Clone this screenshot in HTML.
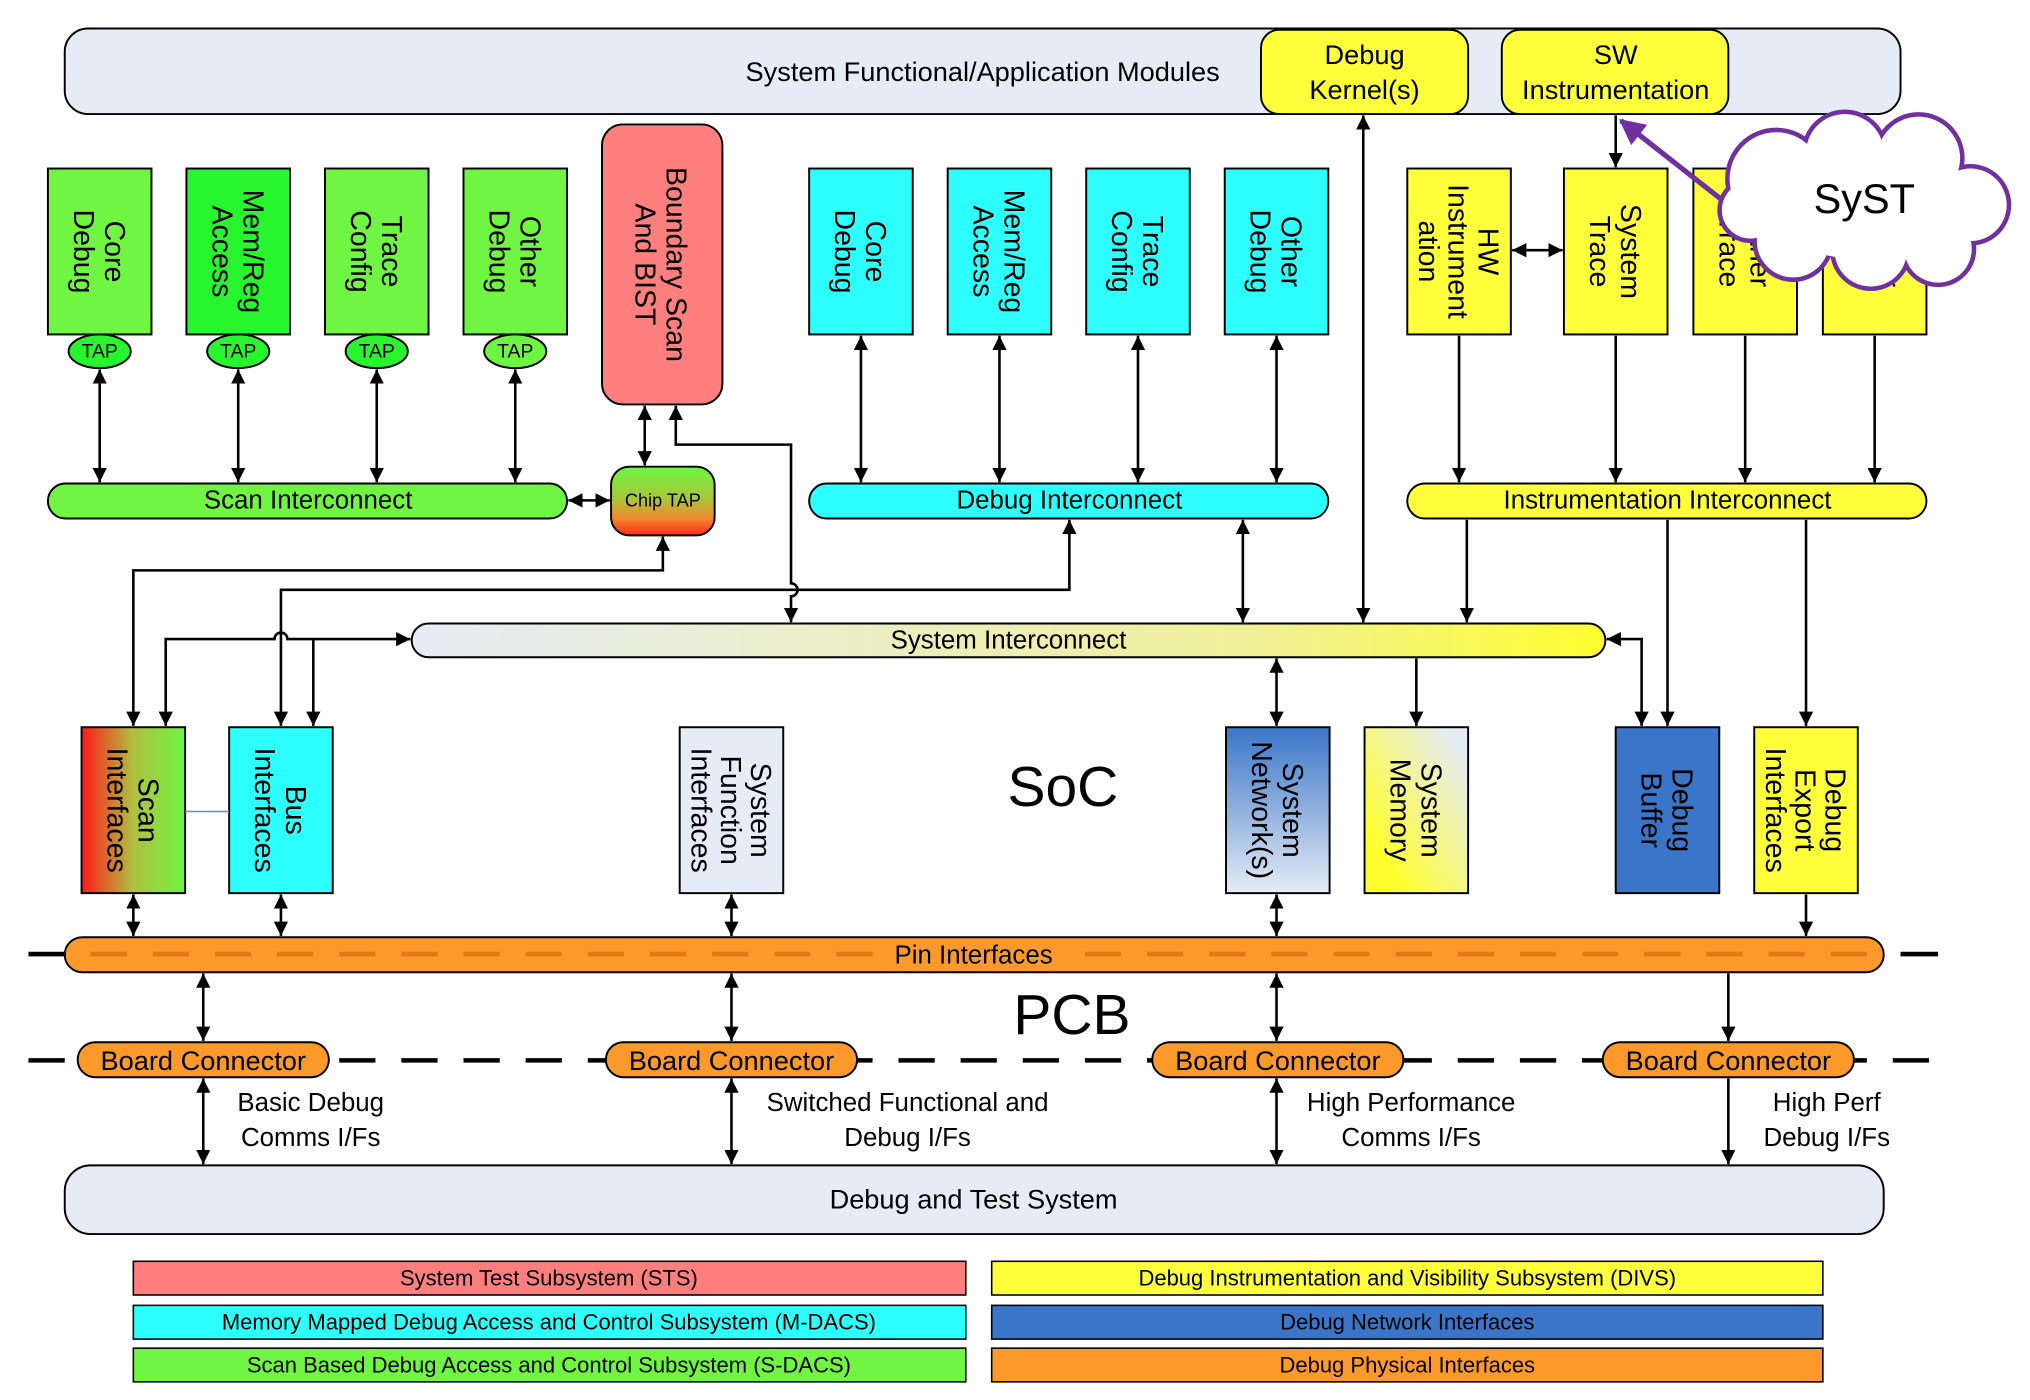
<!DOCTYPE html>
<html><head><meta charset="utf-8"><style>
html,body{margin:0;padding:0;background:#fff;}
svg{display:block;}
text{font-family:"Liberation Sans",Arial,sans-serif;fill:#000;}
</style></head><body>
<svg width="2030" height="1400" viewBox="0 0 1568 1080" preserveAspectRatio="none" xmlns="http://www.w3.org/2000/svg">
<defs>
<marker id="ah" viewBox="0 0 10 10" refX="10" refY="5" markerWidth="11" markerHeight="14" markerUnits="userSpaceOnUse" orient="auto-start-reverse"><path d="M0,0 L10,5 L0,10 z" fill="#000"/></marker>
<marker id="ap" viewBox="0 0 10 10" refX="9" refY="5" markerWidth="20" markerHeight="20" markerUnits="userSpaceOnUse" orient="auto"><path d="M0,0 L10,5 L0,10 z" fill="#7030a0"/></marker>
<linearGradient id="gtap" x1="0" y1="0" x2="0" y2="1"><stop offset="0" stop-color="#6ef543"/><stop offset="0.45" stop-color="#a8c83a"/><stop offset="0.75" stop-color="#f08a30"/><stop offset="1" stop-color="#ff2a1a"/></linearGradient>
<linearGradient id="gsys" x1="0" y1="0" x2="1" y2="0"><stop offset="0" stop-color="#e6ecf5"/><stop offset="0.7" stop-color="#f0f09a"/><stop offset="1" stop-color="#ffff30"/></linearGradient>
<linearGradient id="gscan" x1="0" y1="0" x2="1" y2="0"><stop offset="0" stop-color="#ff1a1a"/><stop offset="0.5" stop-color="#b0c040"/><stop offset="1" stop-color="#6ef543"/></linearGradient>
<linearGradient id="gnet" x1="0" y1="0" x2="0" y2="1"><stop offset="0" stop-color="#3a75c8"/><stop offset="1" stop-color="#e6ecf5"/></linearGradient>
<linearGradient id="gmem" x1="0" y1="1" x2="1" y2="0"><stop offset="0.2" stop-color="#ffff30"/><stop offset="0.9" stop-color="#e6ecf5"/></linearGradient>
</defs>

<rect x="50" y="22" width="1418" height="66" rx="18" fill="#e6ecf5" stroke="#000" stroke-width="1.5"/>
<text x="759" y="55" font-size="21" text-anchor="middle" dominant-baseline="central">System Functional/Application Modules</text>
<rect x="974" y="23" width="160" height="65" rx="14" fill="#ffff3c" stroke="#000" stroke-width="1.5"/>
<text x="1054" y="42" font-size="21" text-anchor="middle" dominant-baseline="central">Debug</text>
<text x="1054" y="69" font-size="21" text-anchor="middle" dominant-baseline="central">Kernel(s)</text>
<rect x="1160" y="23" width="175" height="65" rx="14" fill="#ffff3c" stroke="#000" stroke-width="1.5"/>
<text x="1248" y="42" font-size="21" text-anchor="middle" dominant-baseline="central">SW</text>
<text x="1248" y="69" font-size="21" text-anchor="middle" dominant-baseline="central">Instrumentation</text>

<g stroke="#000" stroke-width="1.5">
<rect x="37" y="130" width="80" height="128" fill="#70f542"/>
<rect x="144" y="130" width="80" height="128" fill="#27f52e"/>
<rect x="251" y="130" width="80" height="128" fill="#70f542"/>
<rect x="358" y="130" width="80" height="128" fill="#70f542"/>
<ellipse cx="77" cy="271" rx="24" ry="13" fill="#27f52e"/>
<ellipse cx="184" cy="271" rx="24" ry="13" fill="#27f52e"/>
<ellipse cx="291" cy="271" rx="24" ry="13" fill="#27f52e"/>
<ellipse cx="398" cy="271" rx="24" ry="13" fill="#6ef543"/>
<rect x="465" y="96" width="93" height="216" rx="16" fill="#ff7f7f"/>
<rect x="472" y="360" width="80" height="53" rx="14" fill="url(#gtap)"/>
<rect x="37" y="373" width="401" height="27" rx="13.5" fill="#70f542"/>
<rect x="625" y="130" width="80" height="128" fill="#2dfefe"/>
<rect x="732" y="130" width="80" height="128" fill="#2dfefe"/>
<rect x="839" y="130" width="80" height="128" fill="#2dfefe"/>
<rect x="946" y="130" width="80" height="128" fill="#2dfefe"/>
<rect x="625" y="373" width="401" height="27" rx="13.5" fill="#2dfefe"/>
<rect x="1087" y="130" width="80" height="128" fill="#ffff3c"/>
<rect x="1208" y="130" width="80" height="128" fill="#ffff3c"/>
<rect x="1308" y="130" width="80" height="128" fill="#ffff3c"/>
<rect x="1408" y="130" width="80" height="128" fill="#ffff3c"/>
<rect x="1087" y="373" width="401" height="27" rx="13.5" fill="#ffff3c"/>
<rect x="318" y="481" width="922" height="26" rx="13" fill="url(#gsys)"/>
<rect x="63" y="561" width="80" height="128" fill="url(#gscan)"/>
<rect x="177" y="561" width="80" height="128" fill="#2dfefe"/>
<rect x="525" y="561" width="80" height="128" fill="#e6ecf5"/>
<rect x="947" y="561" width="80" height="128" fill="url(#gnet)"/>
<rect x="1054" y="561" width="80" height="128" fill="url(#gmem)"/>
<rect x="1248" y="561" width="80" height="128" fill="#3a75c8"/>
<rect x="1355" y="561" width="80" height="128" fill="#ffff3c"/>
</g>
<line x1="143" y1="626" x2="177" y2="626" stroke="#6a8fd0" stroke-width="1.2"/>

<g font-size="22" text-anchor="middle">
<text transform="translate(77,194) rotate(90)"><tspan x="0" y="-4">Core</tspan><tspan x="0" y="20">Debug</tspan></text>
<text transform="translate(184,194) rotate(90)"><tspan x="0" y="-4">Mem/Reg</tspan><tspan x="0" y="20">Access</tspan></text>
<text transform="translate(291,194) rotate(90)"><tspan x="0" y="-4">Trace</tspan><tspan x="0" y="20">Config</tspan></text>
<text transform="translate(398,194) rotate(90)"><tspan x="0" y="-4">Other</tspan><tspan x="0" y="20">Debug</tspan></text>
<text transform="translate(511,204) rotate(90)"><tspan x="0" y="-4">Boundary Scan</tspan><tspan x="0" y="20">And BIST</tspan></text>
<text transform="translate(665,194) rotate(90)"><tspan x="0" y="-4">Core</tspan><tspan x="0" y="20">Debug</tspan></text>
<text transform="translate(772,194) rotate(90)"><tspan x="0" y="-4">Mem/Reg</tspan><tspan x="0" y="20">Access</tspan></text>
<text transform="translate(879,194) rotate(90)"><tspan x="0" y="-4">Trace</tspan><tspan x="0" y="20">Config</tspan></text>
<text transform="translate(986,194) rotate(90)"><tspan x="0" y="-4">Other</tspan><tspan x="0" y="20">Debug</tspan></text>
<text transform="translate(1127,194) rotate(90)"><tspan x="0" y="-15">HW</tspan><tspan x="0" y="8">Instrument</tspan><tspan x="0" y="31">ation</tspan></text>
<text transform="translate(1248,194) rotate(90)"><tspan x="0" y="-4">System</tspan><tspan x="0" y="20">Trace</tspan></text>
<text transform="translate(1348,194) rotate(90)"><tspan x="0" y="-4">Other</tspan><tspan x="0" y="20">Trace</tspan></text>
<text transform="translate(1448,194) rotate(90)"><tspan x="0" y="-4">Other</tspan><tspan x="0" y="20">Trace</tspan></text>
<text transform="translate(103,625) rotate(90)"><tspan x="0" y="-4">Scan</tspan><tspan x="0" y="20">Interfaces</tspan></text>
<text transform="translate(217,625) rotate(90)"><tspan x="0" y="-4">Bus</tspan><tspan x="0" y="20">Interfaces</tspan></text>
<text transform="translate(565,625) rotate(90)"><tspan x="0" y="-15">System</tspan><tspan x="0" y="8">Function</tspan><tspan x="0" y="31">Interfaces</tspan></text>
<text transform="translate(987,625) rotate(90)"><tspan x="0" y="-4">System</tspan><tspan x="0" y="20">Network(s)</tspan></text>
<text transform="translate(1094,625) rotate(90)"><tspan x="0" y="-4">System</tspan><tspan x="0" y="20">Memory</tspan></text>
<text transform="translate(1288,625) rotate(90)"><tspan x="0" y="-4">Debug</tspan><tspan x="0" y="20">Buffer</tspan></text>
<text transform="translate(1395,625) rotate(90)"><tspan x="0" y="-15">Debug</tspan><tspan x="0" y="8">Export</tspan><tspan x="0" y="31">Interfaces</tspan></text>
</g>
<g font-size="15" text-anchor="middle" dominant-baseline="central">
<text x="77" y="271">TAP</text><text x="184" y="271">TAP</text><text x="291" y="271">TAP</text><text x="398" y="271">TAP</text>
<text x="512" y="386" font-size="14">Chip TAP</text>
</g>
<g font-size="20" text-anchor="middle" dominant-baseline="central">
<text x="238" y="386">Scan Interconnect</text>
<text x="826" y="386">Debug Interconnect</text>
<text x="1288" y="386">Instrumentation Interconnect</text>
<text x="779" y="494">System Interconnect</text>
</g>
<text x="821" y="607" font-size="44" text-anchor="middle" dominant-baseline="central">SoC</text>
<text x="828" y="783" font-size="44" text-anchor="middle" dominant-baseline="central">PCB</text>

<g stroke="#000" stroke-width="2" fill="none">
<line x1="77" y1="285" x2="77" y2="372" marker-start="url(#ah)" marker-end="url(#ah)"/>
<line x1="184" y1="285" x2="184" y2="372" marker-start="url(#ah)" marker-end="url(#ah)"/>
<line x1="291" y1="285" x2="291" y2="372" marker-start="url(#ah)" marker-end="url(#ah)"/>
<line x1="398" y1="285" x2="398" y2="372" marker-start="url(#ah)" marker-end="url(#ah)"/>
<line x1="439" y1="386" x2="471" y2="386" marker-start="url(#ah)" marker-end="url(#ah)"/>
<line x1="498" y1="313" x2="498" y2="359" marker-start="url(#ah)" marker-end="url(#ah)"/>
<path d="M522,313 V343 H611 V450 a5,5 0 0 1 0,10 V480" marker-start="url(#ah)" marker-end="url(#ah)"/>
<line x1="665" y1="259" x2="665" y2="372" marker-start="url(#ah)" marker-end="url(#ah)"/>
<line x1="772" y1="259" x2="772" y2="372" marker-start="url(#ah)" marker-end="url(#ah)"/>
<line x1="879" y1="259" x2="879" y2="372" marker-start="url(#ah)" marker-end="url(#ah)"/>
<line x1="986" y1="259" x2="986" y2="372" marker-start="url(#ah)" marker-end="url(#ah)"/>
<line x1="1168" y1="193" x2="1207" y2="193" marker-start="url(#ah)" marker-end="url(#ah)"/>
<line x1="1127" y1="259" x2="1127" y2="372" marker-end="url(#ah)"/>
<line x1="1248" y1="259" x2="1248" y2="372" marker-end="url(#ah)"/>
<line x1="1348" y1="259" x2="1348" y2="372" marker-end="url(#ah)"/>
<line x1="1448" y1="259" x2="1448" y2="372" marker-end="url(#ah)"/>
<line x1="1248" y1="89" x2="1248" y2="129" marker-end="url(#ah)"/>
<line x1="1053" y1="89" x2="1053" y2="480" marker-start="url(#ah)" marker-end="url(#ah)"/>
<line x1="960" y1="401" x2="960" y2="480" marker-start="url(#ah)" marker-end="url(#ah)"/>
<line x1="1133" y1="401" x2="1133" y2="480" marker-end="url(#ah)"/>
<path d="M103,560 V440 H512 V414" marker-start="url(#ah)" marker-end="url(#ah)"/>
<path d="M217,560 V455 H826 V401" marker-start="url(#ah)" marker-end="url(#ah)"/>
<path d="M128,560 V493 H212 a5,5 0 0 1 10,0 H317" marker-start="url(#ah)" marker-end="url(#ah)"/>
<line x1="242" y1="493" x2="242" y2="560" marker-end="url(#ah)"/>
<path d="M1268,560 V493 H1241" marker-start="url(#ah)" marker-end="url(#ah)"/>
<line x1="1288" y1="401" x2="1288" y2="560" marker-end="url(#ah)"/>
<line x1="1395" y1="401" x2="1395" y2="560" marker-end="url(#ah)"/>
<line x1="986" y1="508" x2="986" y2="560" marker-start="url(#ah)" marker-end="url(#ah)"/>
<line x1="1094" y1="508" x2="1094" y2="560" marker-end="url(#ah)"/>
<line x1="103" y1="690" x2="103" y2="722" marker-start="url(#ah)" marker-end="url(#ah)"/>
<line x1="217" y1="690" x2="217" y2="722" marker-start="url(#ah)" marker-end="url(#ah)"/>
<line x1="565" y1="690" x2="565" y2="722" marker-start="url(#ah)" marker-end="url(#ah)"/>
<line x1="986" y1="690" x2="986" y2="722" marker-start="url(#ah)" marker-end="url(#ah)"/>
<line x1="1395" y1="690" x2="1395" y2="722" marker-end="url(#ah)"/>
<line x1="157" y1="751" x2="157" y2="803" marker-start="url(#ah)" marker-end="url(#ah)"/>
<line x1="565" y1="751" x2="565" y2="803" marker-start="url(#ah)" marker-end="url(#ah)"/>
<line x1="986" y1="751" x2="986" y2="803" marker-start="url(#ah)" marker-end="url(#ah)"/>
<line x1="1335" y1="751" x2="1335" y2="803" marker-end="url(#ah)"/>
<line x1="157" y1="832" x2="157" y2="898" marker-start="url(#ah)" marker-end="url(#ah)"/>
<line x1="565" y1="832" x2="565" y2="898" marker-start="url(#ah)" marker-end="url(#ah)"/>
<line x1="986" y1="832" x2="986" y2="898" marker-start="url(#ah)" marker-end="url(#ah)"/>
<line x1="1335" y1="832" x2="1335" y2="898" marker-end="url(#ah)"/>
</g>

<g stroke="#000" stroke-width="3.5">
<line x1="22" y1="736" x2="50" y2="736"/>
<line x1="1468" y1="736" x2="1497" y2="736"/>
<line x1="22" y1="818" x2="1497" y2="818" stroke-dasharray="28,20"/>
</g>
<rect x="50" y="723" width="1405" height="27" rx="13.5" fill="#fb9a2b" stroke="#000" stroke-width="1.5"/>
<line x1="70" y1="736" x2="1445" y2="736" stroke="#e07a18" stroke-width="3.5" stroke-dasharray="28,20"/>
<rect x="680" y="725" width="144" height="23" fill="#fb9a2b"/>
<text x="752" y="737" font-size="20" text-anchor="middle" dominant-baseline="central">Pin Interfaces</text>

<g stroke="#000" stroke-width="1.5" fill="#fb9a2b">
<rect x="60" y="804" width="194" height="27" rx="13.5"/>
<rect x="468" y="804" width="194" height="27" rx="13.5"/>
<rect x="890" y="804" width="194" height="27" rx="13.5"/>
<rect x="1238" y="804" width="194" height="27" rx="13.5"/>
</g>
<g font-size="21" text-anchor="middle" dominant-baseline="central">
<text x="157" y="818">Board Connector</text>
<text x="565" y="818">Board Connector</text>
<text x="987" y="818">Board Connector</text>
<text x="1335" y="818">Board Connector</text>
</g>
<g font-size="20" text-anchor="middle" dominant-baseline="central">
<text x="240" y="851">Basic Debug</text><text x="240" y="878">Comms I/Fs</text>
<text x="701" y="851">Switched Functional and</text><text x="701" y="878">Debug I/Fs</text>
<text x="1090" y="851">High Performance</text><text x="1090" y="878">Comms I/Fs</text>
<text x="1411" y="851">High Perf</text><text x="1411" y="878">Debug I/Fs</text>
</g>

<rect x="50" y="899" width="1405" height="53" rx="20" fill="#e6ecf5" stroke="#000" stroke-width="1.5"/>
<text x="752" y="925" font-size="21" text-anchor="middle" dominant-baseline="central">Debug and Test System</text>

<g stroke="#000" stroke-width="1.2">
<rect x="103" y="973" width="643" height="26" fill="#ff7f7f"/>
<rect x="103" y="1007" width="643" height="26" fill="#2dfefe"/>
<rect x="103" y="1040" width="643" height="26" fill="#70f542"/>
<rect x="766" y="973" width="642" height="26" fill="#ffff3c"/>
<rect x="766" y="1007" width="642" height="26" fill="#3a75c8"/>
<rect x="766" y="1040" width="642" height="26" fill="#fb9a2b"/>
</g>
<g font-size="17" text-anchor="middle" dominant-baseline="central">
<text x="424" y="986">System Test Subsystem (STS)</text>
<text x="424" y="1020">Memory Mapped  Debug Access and Control Subsystem (M-DACS)</text>
<text x="424" y="1053">Scan Based Debug Access and Control Subsystem (S-DACS)</text>
<text x="1087" y="986">Debug Instrumentation and Visibility Subsystem (DIVS)</text>
<text x="1087" y="1020">Debug Network Interfaces</text>
<text x="1087" y="1053">Debug Physical Interfaces</text>
</g>

<line x1="1340" y1="162" x2="1252" y2="93" stroke="#7030a0" stroke-width="4" marker-end="url(#ap)"/>
<g stroke="#7030a0" stroke-width="7" fill="#fff">
<circle cx="1372" cy="138" r="36"/><circle cx="1425" cy="118" r="30"/><circle cx="1482" cy="122" r="32"/>
<circle cx="1522" cy="158" r="28"/><circle cx="1497" cy="192" r="26"/><circle cx="1445" cy="193" r="28"/>
<circle cx="1385" cy="186" r="28"/><circle cx="1352" cy="162" r="22"/>
</g>
<g fill="#fff">
<circle cx="1372" cy="138" r="36"/><circle cx="1425" cy="118" r="30"/><circle cx="1482" cy="122" r="32"/>
<circle cx="1522" cy="158" r="28"/><circle cx="1497" cy="192" r="26"/><circle cx="1445" cy="193" r="28"/>
<circle cx="1385" cy="186" r="28"/><circle cx="1352" cy="162" r="22"/>
<ellipse cx="1440" cy="155" rx="80" ry="45"/>
</g>
<text x="1440" y="153" font-size="32" text-anchor="middle" dominant-baseline="central">SyST</text>
</svg>
</body></html>
